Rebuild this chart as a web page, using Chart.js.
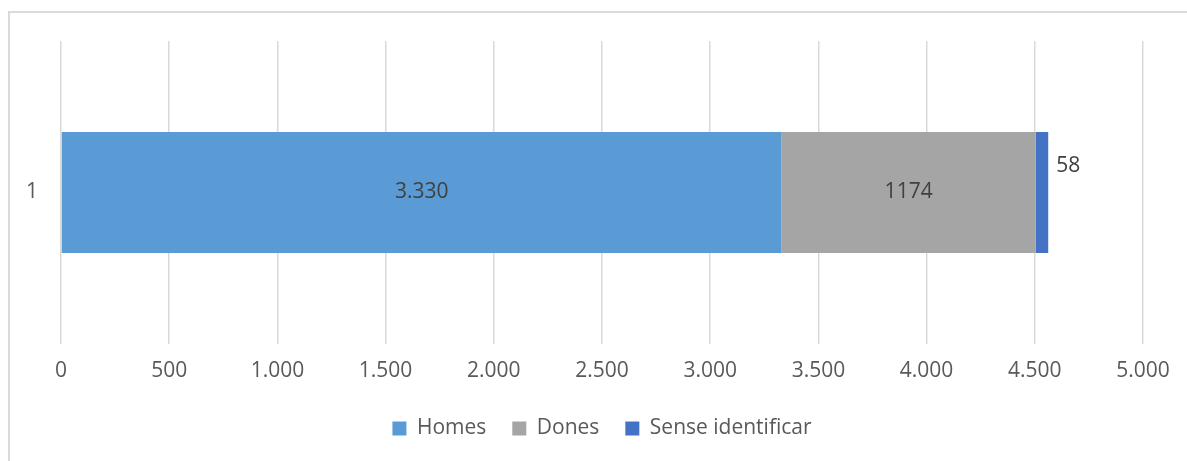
<!DOCTYPE html>
<html>
<head>
<meta charset="utf-8">
<script src="https://cdn.jsdelivr.net/npm/chart.js@4.4.1/dist/chart.umd.min.js"></script>
<style>
  body { margin: 0; background: #fff; overflow: hidden; }
  #frame { position: absolute; left: 8px; top: 11px; width: 1300px; height: 600px; border: 2px solid #d9d9d9; }
  #wrap { position: absolute; left: 0; top: 0; width: 1187px; height: 461px; }
</style>
</head>
<body>
<div id="frame"></div>
<div id="wrap"><canvas id="grafic"></canvas></div>
<script>
// dades
var categories = ['1'];
var series = ['Homes', 'Dones', 'Sense identificar'];
var homes = [3330];
var dones = [1174];
var senseId = [58];
var etiquetes = ['3.330', '1174', '58'];
var colors = ['#5B9BD5', '#A5A5A5', '#4472C4'];

function ambPunts(v) {
    return String(v).replace(/\B(?=(\d{3})+(?!\d))/g, '.');
}

// etiquetes de valor sobre les barres
var etiquetesPlugin = {
    id: 'etiquetes',
    afterDatasetsDraw: function (chart) {
        var ctx = chart.ctx;
        ctx.save();
        ctx.font = '21px "Open Sans"';
        ctx.fillStyle = '#404040';
        ctx.textBaseline = 'middle';
        chart.data.datasets.forEach(function (ds, i) {
            var bar = chart.getDatasetMeta(i).data[0];
            if (!bar) return;
            if (i < 2) {
                ctx.textAlign = 'center';
                ctx.fillText(etiquetes[i], (bar.x + bar.base) / 2, bar.y);
            } else {
                ctx.textAlign = 'left';
                ctx.fillText(etiquetes[i], bar.x + 8, bar.y - 26);
            }
        });
        ctx.restore();
    }
};

document.addEventListener('DOMContentLoaded', function () {
    var ctx = document.getElementById('grafic').getContext('2d');
    new Chart(ctx, {
        type: 'bar',
        data: {
            labels: categories,
            datasets: [
                { label: series[0], data: homes, backgroundColor: colors[0] },
                { label: series[1], data: dones, backgroundColor: colors[1] },
                { label: series[2], data: senseId, backgroundColor: colors[2] }
            ]
        },
        options: {
            indexAxis: 'y',
            responsive: true,
            maintainAspectRatio: false,
            animation: false,
            layout: { padding: { top: 41, right: 44, bottom: 12, left: 0 } },
            datasets: { bar: { categoryPercentage: 1, barPercentage: 0.4 } },
            scales: {
                x: {
                    stacked: true,
                    min: 0,
                    max: 5000,
                    ticks: {
                        stepSize: 500,
                        padding: 14,
                        color: '#595959',
                        font: { family: 'Open Sans', size: 21 },
                        callback: function (v) { return ambPunts(v); }
                    },
                    grid: { color: '#d9d9d9', lineWidth: 1.5, drawTicks: false },
                    border: { display: false },
                    afterFit: function (s) { s.height = 48; }
                },
                y: {
                    stacked: true,
                    ticks: {
                        padding: 23,
                        color: '#595959',
                        font: { family: 'Open Sans', size: 21 }
                    },
                    grid: { display: false, drawTicks: false },
                    border: { display: false },
                    afterFit: function (s) { s.width = 61; }
                }
            },
            plugins: {
                tooltip: { enabled: false },
                legend: {
                    position: 'bottom',
                    fullSize: false,
                    labels: {
                        boxWidth: 14,
                        boxHeight: 14,
                        padding: 26,
                        color: '#595959',
                        font: { family: 'Open Sans', size: 21 }
                    }
                }
            }
        },
        plugins: [etiquetesPlugin]
    });
});
</script>
</body>
</html>
